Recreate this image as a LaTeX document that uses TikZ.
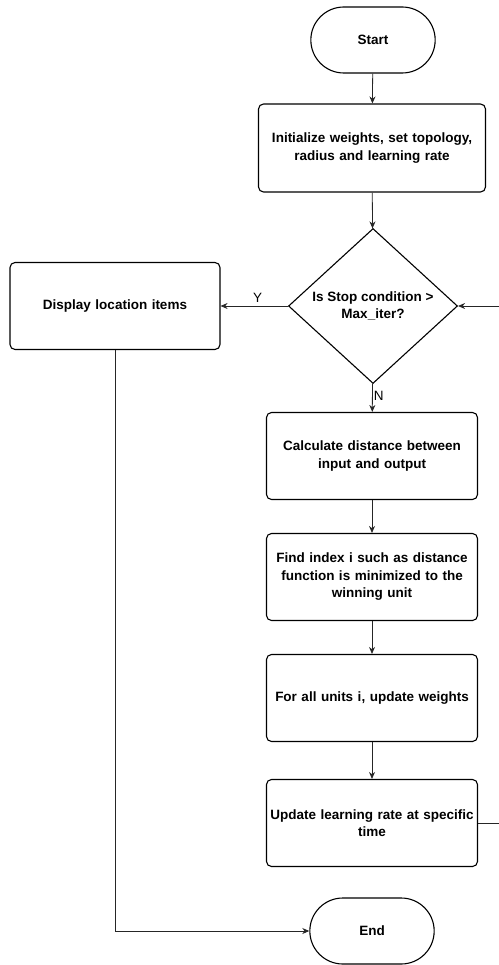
\documentclass[tikz,border=0pt]{standalone}
\usepackage{fontspec}
\setmainfont{Liberation Sans}
\usetikzlibrary{shapes.geometric, shapes.misc, arrows.meta, positioning}

\begin{document}
\begin{tikzpicture}[x=1pt, y=-1pt,
    box/.style={rectangle, rounded corners=5pt, draw, line width=1.1pt, minimum width=211pt, minimum height=87pt, text width=211pt, align=center, inner sep=0pt, font=\fontsize{13.5}{17.5}\selectfont\bfseries},
    term/.style={rounded rectangle, draw, line width=1.1pt, minimum width=131pt, minimum height=66pt, font=\fontsize{13.5}{17.5}\selectfont\bfseries},
    decision/.style={diamond, draw, line width=1.1pt, minimum width=169pt, minimum height=155pt, inner sep=0pt, align=center, font=\fontsize{13.5}{17.5}\selectfont\bfseries},
    flow/.style={-{Stealth[length=7pt, width=6pt]}, line width=0.8pt, draw=black!85},
    lbl/.style={font=\fontsize{13.5}{16}\selectfont}]
    \useasboundingbox (0,0) rectangle (498,965);

    \node[term] (start) at (373,40) {Start};
    \node[box, minimum width=227pt, minimum height=88pt, text width=227pt] (init) at (372,148) {Initialize weights, set topology,\\ radius and learning rate};
    \node[decision] (check) at (373,306) {Is Stop condition >\\ Max\_iter?};
    \node[box, minimum width=210pt, text width=210pt] (display) at (115,306) {Display location items};
    \node[box] (calc) at (372,456) {Calculate distance between\\ input and output};
    \node[box] (find) at (372,577) {Find index i such as distance\\ function is minimized to the\\ winning unit};
    \node[box] (weights) at (372,698) {For all units i, update weights};
    \node[box] (rate) at (372,823) {Update learning rate at specific\\ time};
    \node[term] (stop) at (372,931) {End};

    \draw[flow] (start) -- (init);
    \draw[flow] (init) -- (check);
    \draw[flow] (check) -- node[lbl, above, pos=0.45] {Y} (display);
    \draw[flow] (check) -- node[lbl, right, inner sep=1pt, pos=0.45] {N} (calc);
    \draw[flow] (calc) -- (find);
    \draw[flow] (find) -- (weights);
    \draw[flow] (weights) -- (rate);
    \draw[flow] (rate.east) -- ++(40,0) |- (check.east);
    \draw[flow] (display.south) |- (stop.west);
\end{tikzpicture}
\end{document}
